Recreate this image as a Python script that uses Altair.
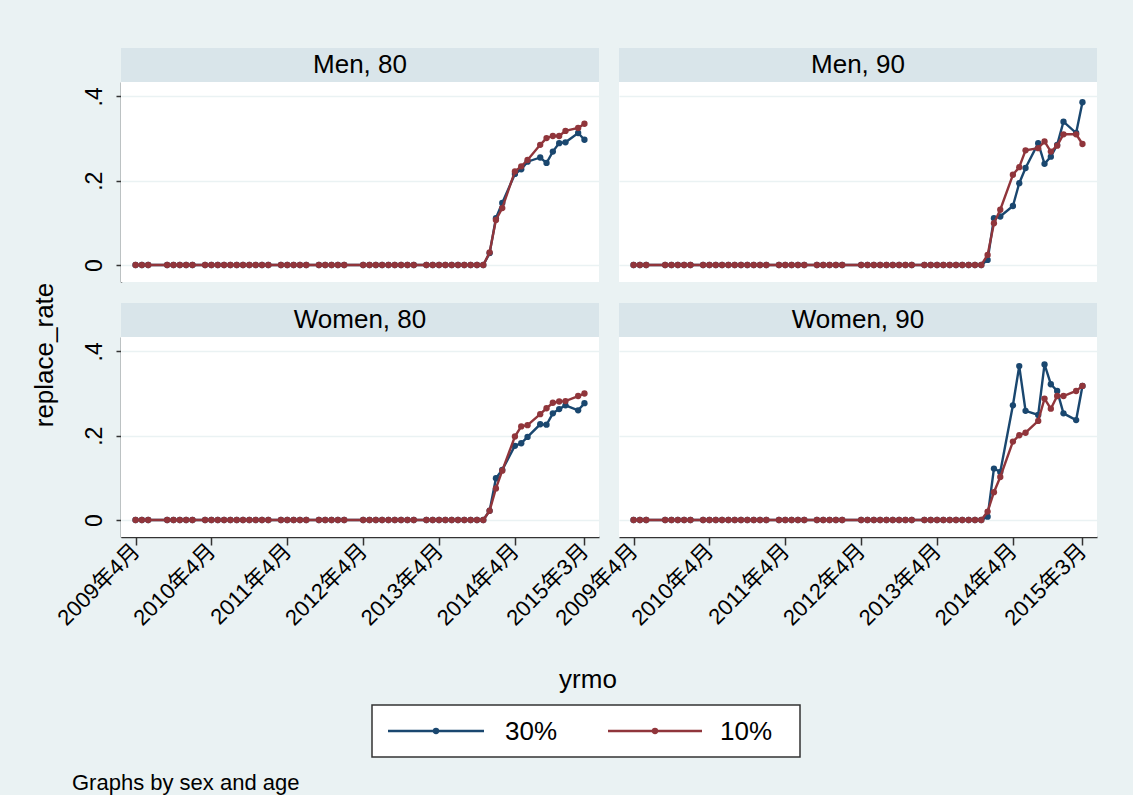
import json

import altair as alt
import pandas as pd

# Months that have observations (yrmo), in calendar order
yrmo = [
    "2009-04", "2009-05", "2009-06",
    "2009-09", "2009-10", "2009-11", "2009-12", "2010-01",
    "2010-03", "2010-04", "2010-05", "2010-06", "2010-07", "2010-08",
    "2010-09", "2010-10", "2010-11", "2010-12", "2011-01",
    "2011-03", "2011-04", "2011-05", "2011-06", "2011-07",
    "2011-09", "2011-10", "2011-11", "2011-12", "2012-01",
    "2012-04", "2012-05", "2012-06", "2012-07", "2012-08", "2012-09",
    "2012-10", "2012-11", "2012-12",
    "2013-02", "2013-03", "2013-04", "2013-05", "2013-06", "2013-07",
    "2013-08", "2013-09", "2013-10", "2013-11",
    "2013-12", "2014-01", "2014-02", "2014-04", "2014-05", "2014-06",
    "2014-08", "2014-09", "2014-10", "2014-11", "2014-12", "2015-02", "2015-03",
]

# replace_rate is zero for every month before 2013-12
flat = [0.0] * 48

men80_30 = flat + [0.028, 0.111, 0.147, 0.216, 0.227, 0.245, 0.255, 0.242, 0.269, 0.289, 0.291, 0.313, 0.297]
men80_10 = flat + [0.030, 0.107, 0.135, 0.222, 0.234, 0.249, 0.285, 0.301, 0.306, 0.306, 0.318, 0.325, 0.335]
men90_30 = flat + [0.012, 0.111, 0.115, 0.140, 0.194, 0.230, 0.289, 0.240, 0.257, 0.285, 0.340, 0.313, 0.386]
men90_10 = flat + [0.024, 0.099, 0.131, 0.214, 0.232, 0.272, 0.277, 0.293, 0.269, 0.283, 0.310, 0.310, 0.287]
women80_30 = flat + [0.022, 0.099, 0.119, 0.176, 0.182, 0.197, 0.227, 0.226, 0.253, 0.263, 0.272, 0.260, 0.277]
women80_10 = flat + [0.022, 0.075, 0.117, 0.198, 0.222, 0.225, 0.251, 0.265, 0.278, 0.281, 0.282, 0.294, 0.300]
women90_30 = flat + [0.008, 0.122, 0.114, 0.272, 0.365, 0.259, 0.249, 0.369, 0.322, 0.306, 0.253, 0.237, 0.318]
women90_10 = flat + [0.020, 0.066, 0.102, 0.186, 0.201, 0.207, 0.235, 0.288, 0.264, 0.294, 0.294, 0.306, 0.318]

tick_months = ["2009-04", "2010-04", "2011-04", "2012-04", "2013-04", "2014-04", "2015-03"]
tick_labels = ["2009年4月", "2010年4月", "2011年4月", "2012年4月", "2013年4月", "2014年4月", "2015年3月"]
y_ticks = [0, 0.2, 0.4]
y_tick_labels = ["0", ".2", ".4"]

series = ["30%", "10%"]
colors = ["#1A476F", "#90353B"]

FONT = "Liberation Sans, Noto Sans CJK JP"
BG = "#EAF2F3"
STRIP = "#D9E5EA"
GRID = "#EAF2F3"
AX = "#333333"

values = {
    ("Men", 80, "30%"): men80_30,
    ("Men", 80, "10%"): men80_10,
    ("Men", 90, "30%"): men90_30,
    ("Men", 90, "10%"): men90_10,
    ("Women", 80, "30%"): women80_30,
    ("Women", 80, "10%"): women80_10,
    ("Women", 90, "30%"): women90_30,
    ("Women", 90, "10%"): women90_10,
}


def month_index(ym):
    y, m = ym.split("-")
    return (int(y) - 2009) * 12 + int(m) - 4


rows = []
for (sex, age, ser), vals in values.items():
    for ym, v in zip(yrmo, vals):
        rows.append({"sex": sex, "age": age, "series": ser, "yrmo": ym,
                     "t": month_index(ym), "replace_rate": v})
df = pd.DataFrame(rows)

tick_idx = [month_index(m) for m in tick_months]
x_expr = f"{json.dumps(tick_labels, ensure_ascii=False)}[indexof({json.dumps(tick_idx)}, datum.value)]"
y_expr = f"{json.dumps(y_tick_labels)}[indexof({json.dumps(y_ticks)}, datum.value)]"

PW, PH, SH = 478, 200, 34
LINE_W, DOT = 2.4, 40

x_enc = alt.X(
    "t:Q",
    scale=alt.Scale(domain=[-2.3, 73.3], nice=False, zero=False),
    axis=alt.Axis(values=tick_idx, labelExpr=x_expr, labelAngle=315,
                  labelAlign="right", labelBaseline="middle",
                  labelFontSize=22, labelFont=FONT, labelColor="black",
                  labelPadding=2, labelFlush=False, labelOverlap=False,
                  tickSize=8, tickColor=AX, tickWidth=1.5,
                  domainColor=AX, domainWidth=1.5, grid=False, title=None),
)
y_enc = alt.Y(
    "replace_rate:Q",
    scale=alt.Scale(domain=[-0.0403, 0.434], nice=False, zero=False),
    axis=alt.Axis(values=y_ticks, labelExpr=y_expr, labelAngle=270,
                  labelAlign="center", labelBaseline="bottom",
                  labelFontSize=23, labelFont=FONT, labelColor="black",
                  labelPadding=10, tickSize=5, tickColor=AX, tickWidth=1.5,
                  domainColor=AX, domainWidth=1.5, grid=True,
                  gridColor=GRID, gridWidth=1.5, title=None),
)

base = alt.Chart()
# one datum per panel, used for the panel strip
first = (alt.datum.t == 0) & (alt.datum.series == series[0])
top_left = first & (alt.datum.sex == "Men") & (alt.datum.age == 80)
bottom_left = first & (alt.datum.sex == "Women") & (alt.datum.age == 80)

layers = [
    # invisible frame that fixes the extent of the whole figure
    base.transform_filter(top_left).mark_rect(fillOpacity=0, strokeWidth=0).encode(
        x=alt.value(-121), x2=alt.value(1012), y=alt.value(-82), y2=alt.value(713)),
    # panel strips
    base.transform_filter(first).mark_rect(fill=STRIP).encode(
        x=alt.value(0), x2=alt.value(PW), y=alt.value(-SH), y2=alt.value(0)),
    base.transform_filter(first).transform_calculate(
        strip="datum.sex + ', ' + datum.age"
    ).mark_text(fontSize=26, font=FONT, color="black", baseline="middle").encode(
        x=alt.value(PW / 2), y=alt.value(-SH / 2), text="strip:N"),
]

for s, c in zip(series, colors):
    b = base.transform_filter(alt.datum.series == s).encode(x=x_enc, y=y_enc)
    layers.append(b.mark_line(color=c, strokeWidth=LINE_W))
    layers.append(b.mark_circle(color=c, size=DOT, opacity=1))

# y title, x title, legend and note, drawn once around the grid
ann = base.transform_filter(bottom_left)
layers += [
    ann.mark_text(text="replace_rate", angle=270, fontSize=26, font=FONT,
                  color="black", baseline="middle").encode(
        x=alt.value(-76), y=alt.value(18)),
    ann.mark_text(text="yrmo", fontSize=26, font=FONT, color="black",
                  baseline="middle").encode(x=alt.value(467), y=alt.value(343)),
    ann.mark_rect(fill="white", stroke=AX, strokeWidth=1.5).encode(
        x=alt.value(251), x2=alt.value(679), y=alt.value(368), y2=alt.value(420)),
]
legend_slots = [(267, 363, 315, 384), (487, 581, 534, 599)]
for (x0, x1, xm, xt), s, c in zip(legend_slots, series, colors):
    layers += [
        ann.mark_rule(color=c, strokeWidth=LINE_W).encode(
            x=alt.value(x0), x2=alt.value(x1), y=alt.value(394)),
        ann.mark_circle(color=c, size=DOT, opacity=1).encode(
            x=alt.value(xm), y=alt.value(394)),
        ann.mark_text(text=s, fontSize=26, font=FONT, color="black",
                      align="left", baseline="middle").encode(
            x=alt.value(xt), y=alt.value(395)),
    ]
layers.append(
    ann.mark_text(text="Graphs by sex and age", fontSize=22, font=FONT,
                  color="black", align="left", baseline="middle").encode(
        x=alt.value(-49), y=alt.value(446)))

chart = alt.layer(*layers).properties(width=PW, height=PH).facet(
    data=df,
    row=alt.Row("sex:N", header=alt.Header(labels=False), title=None),
    column=alt.Column("age:O", header=alt.Header(labels=False), title=None),
    spacing={"row": 55, "column": 20},
    bounds="flush",
).properties(padding=0).configure(background=BG).configure_view(
    fill="white", strokeWidth=0)

chart.save("out.html", embed_options={"renderer": "svg", "actions": False})
